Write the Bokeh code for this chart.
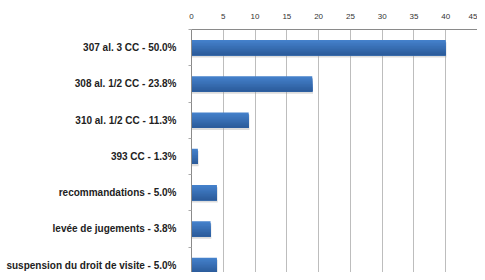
from bokeh.plotting import figure
from bokeh.models import Range1d, FixedTicker
from bokeh.embed import file_html
from bokeh.resources import INLINE

categories = [
    "307 al. 3 CC - 50.0%",
    "308 al. 1/2 CC - 23.8%",
    "310 al. 1/2 CC - 11.3%",
    "393 CC - 1.3%",
    "recommandations - 5.0%",
    "levée de jugements - 3.8%",
    "suspension du droit de visite - 5.0%",
]
values = [40, 19, 9, 1, 4, 3, 4]
x_ticks = [0, 5, 10, 15, 20, 25, 30, 35, 40, 45]

pos = list(range(len(categories)))

p = figure(width=477, height=272, output_backend="svg", toolbar_location=None,
           x_range=Range1d(0, 45), y_range=Range1d(6.2, -0.5),
           x_axis_location="above",
           min_border_left=191, min_border_right=0, min_border_top=29,
           min_border_bottom=0)
p.outline_line_color = None
p.background_fill_color = "white"

# x axis (top)
p.xaxis.ticker = FixedTicker(ticks=x_ticks)
p.xaxis.axis_line_color = "#8a8a8a"
p.xaxis.major_tick_line_color = None
p.xaxis.minor_tick_line_color = None
p.xaxis.major_label_text_font = "Liberation Sans"
p.xaxis.major_label_text_font_size = "8px"
p.xaxis.major_label_text_color = "#333333"
p.xaxis.major_label_standoff = 5

# y axis (left)
p.yaxis.ticker = FixedTicker(ticks=pos, minor_ticks=[i - 0.5 for i in range(len(categories) + 1)])
p.yaxis.major_label_overrides = {i: c for i, c in enumerate(categories)}
p.yaxis.axis_line_color = "#8a8a8a"
p.yaxis.major_tick_line_color = None
p.yaxis.minor_tick_line_color = "#aaaaaa"
p.yaxis.minor_tick_out = 3
p.yaxis.minor_tick_in = 0
p.yaxis.major_label_text_font = "Liberation Sans"
p.yaxis.major_label_text_font_style = "bold"
p.yaxis.major_label_text_font_size = "10px"
p.yaxis.major_label_text_color = "#222222"
p.yaxis.major_label_standoff = 9

p.xgrid.ticker = FixedTicker(ticks=x_ticks)
p.xgrid.grid_line_color = "#bdbdbd"
p.ygrid.grid_line_color = None

# shadow
p.hbar(y=[v + 0.06 for v in pos], right=[v + 0.12 for v in values], left=0, height=0.42,
       fill_color="#9a9a9a", fill_alpha=0.35, line_color=None)

# gradient bars: overlapping slices, each reaching down to the bar bottom
n = 10
top = (0x44, 0x80, 0xca)
bot = (0x2c, 0x5c, 0x9c)
h = 0.42
for k in range(n):
    t = k / (n - 1)
    c = tuple(int(round(top[i] + (bot[i] - top[i]) * t)) for i in range(3))
    col = "#%02x%02x%02x" % c
    slice_top = -h / 2 + h * k / n
    hh = h / 2 - slice_top
    p.hbar(y=[v + slice_top + hh / 2 for v in pos], right=values, left=0, height=hh,
           fill_color=col, line_color=None)

open("out.html", "w").write(file_html(p, INLINE))
